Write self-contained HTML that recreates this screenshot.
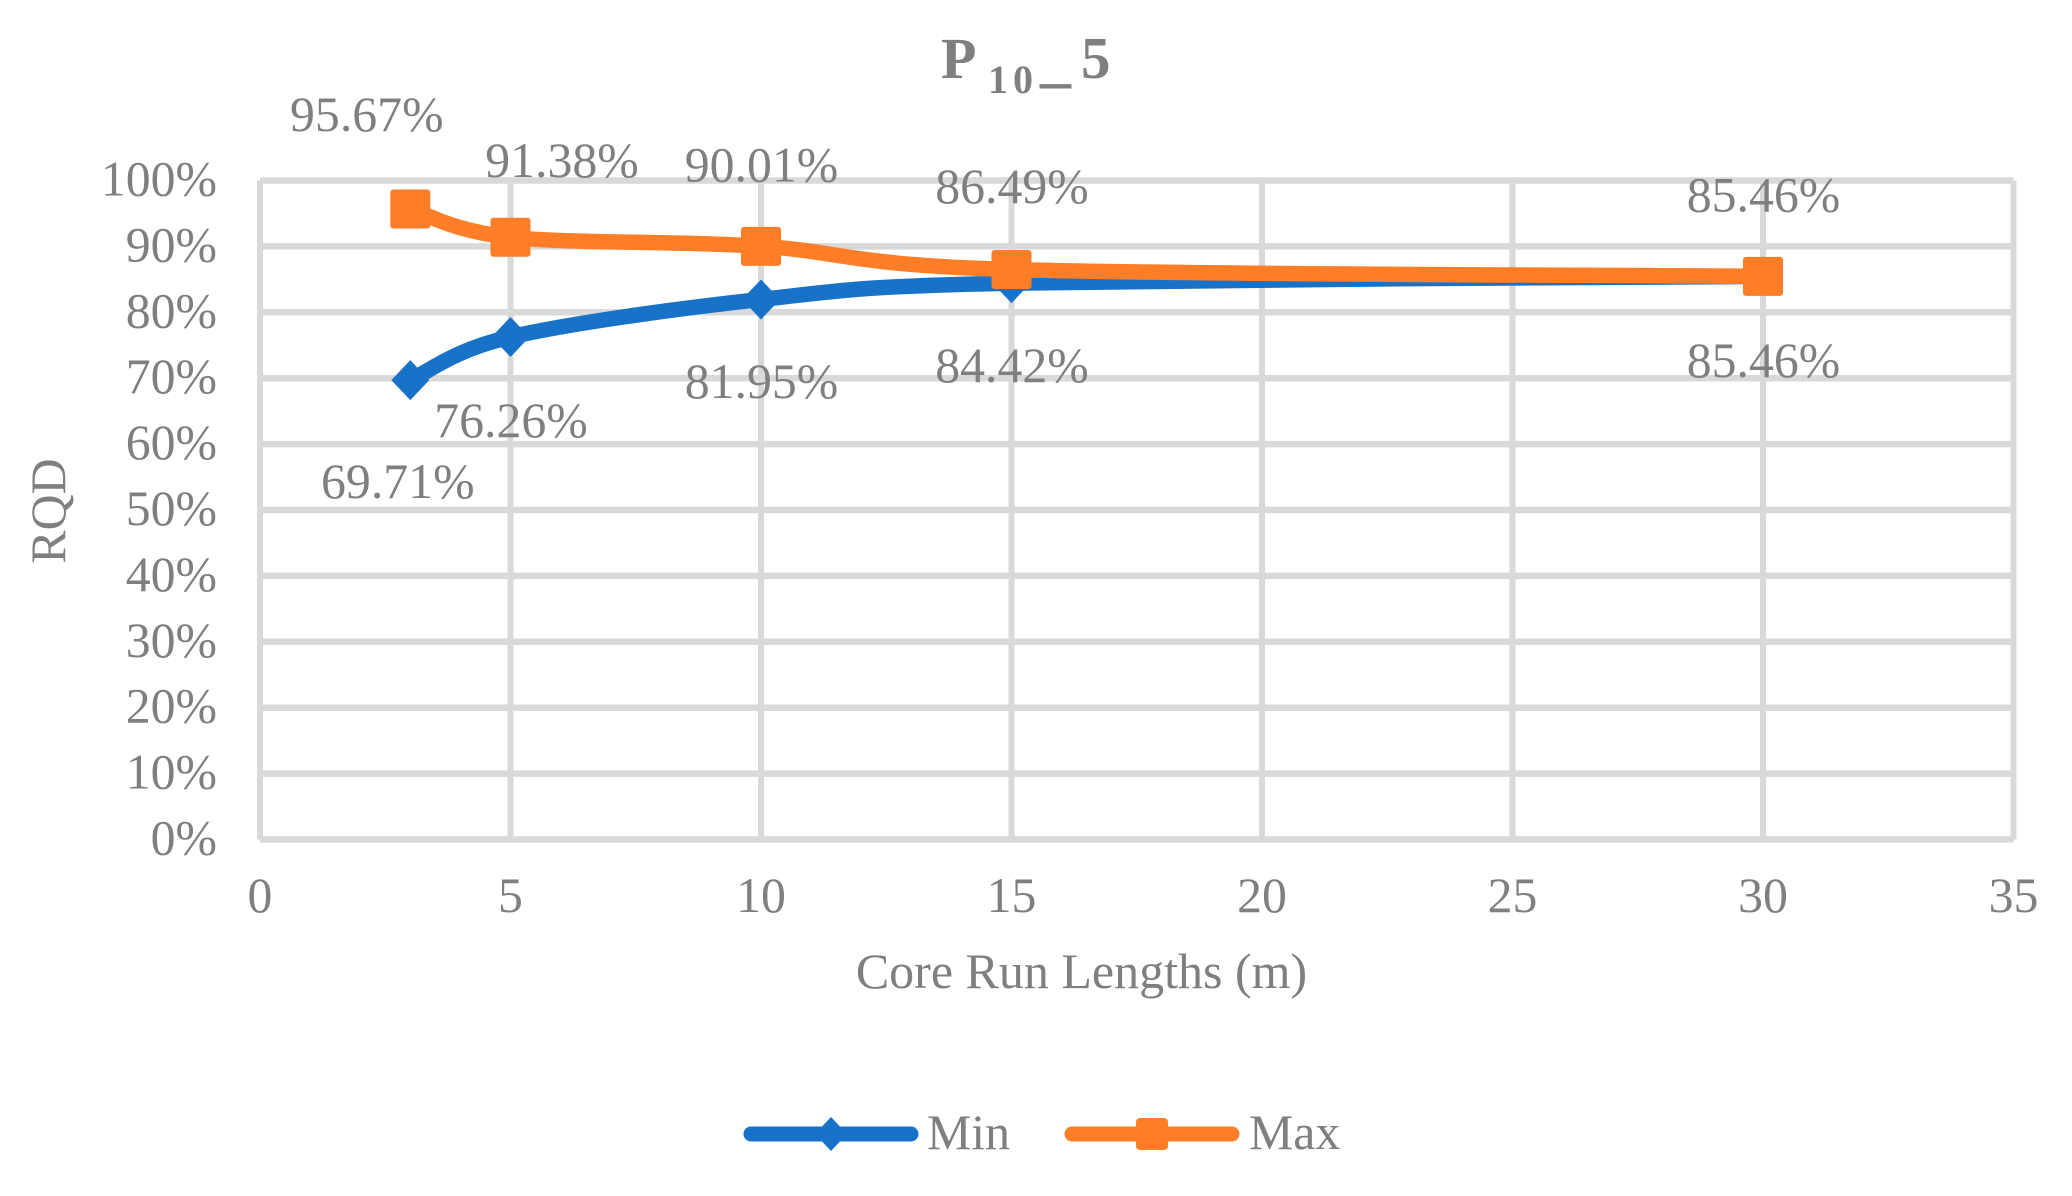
<!DOCTYPE html>
<html lang="en">
<head>
<meta charset="utf-8">
<title>P10_5 RQD vs Core Run Lengths</title>
<style>
  html, body { margin: 0; padding: 0; background: #ffffff; }
  svg { display: block; }
  text { font-family: "Liberation Serif", serif; fill: #7f7f7f; font-size: 49.8px; }
</style>
</head>
<body>
<svg id="chart" xmlns="http://www.w3.org/2000/svg" width="2072" height="1196" viewBox="0 0 2072 1196">
  <rect x="0" y="0" width="2072" height="1196" fill="#ffffff"/>
  <g id="grid"></g>
  <g id="yticks"></g>
  <g id="xticks"></g>
  <g id="series"></g>
  <g id="labels"></g>

  <text font-weight="bold" y="78" style="font-weight:bold"><tspan x="941" y="78" style="font-size:58px">P</tspan><tspan x="988" y="93" style="font-size:40px;letter-spacing:5px">10</tspan><tspan x="1040" y="80" style="font-size:62px">_</tspan><tspan x="1081" y="78" style="font-size:59px">5</tspan></text>
  <text transform="translate(65,511) rotate(-90)" text-anchor="middle">RQD</text>
  <text x="1081.5" y="988" text-anchor="middle" style="font-size:50px">Core Run Lengths (m)</text>

  <g>
    <g>
      <line x1="751" y1="1134" x2="911" y2="1134" stroke="#1772c8" stroke-width="15" stroke-linecap="round"/>
      <polygon points="831,1117 847,1134 831,1151 815,1134" fill="#1772c8"/>
      <text x="927" y="1149">Min</text>
    </g>
    <g>
      <line x1="1072" y1="1134" x2="1232" y2="1134" stroke="#fe7e27" stroke-width="15" stroke-linecap="round"/>
      <rect x="1136" y="1118" width="32" height="32" rx="4" fill="#fe7e27"/>
      <text x="1249" y="1149">Max</text>
    </g>
  </g>
</svg>

<script>
const xTicks = [0, 5, 10, 15, 20, 25, 30, 35];
const yTicks = [0, 10, 20, 30, 40, 50, 60, 70, 80, 90, 100];
const runLengths = [3, 5, 10, 15, 30];
const minValues = [69.71, 76.26, 81.95, 84.42, 85.46];
const maxValues = [95.67, 91.38, 90.01, 86.49, 85.46];

const NS = 'http://www.w3.org/2000/svg';
const plot = { left: 260, right: 2013.5, top: 180.5, bottom: 839.5 };
const xMin = xTicks[0];
const xMax = xTicks[xTicks.length - 1];
const yMin = yTicks[0];
const yMax = yTicks[yTicks.length - 1];

function xScale(v) {
  return plot.left + (v - xMin) / (xMax - xMin) * (plot.right - plot.left);
}
function yScale(v) {
  return plot.bottom - (v - yMin) / (yMax - yMin) * (plot.bottom - plot.top);
}
function make(tag, parent) {
  const el = document.createElementNS(NS, tag);
  parent.appendChild(el);
  return el;
}
function smoothPath(points) {
  let d = 'M' + points[0][0] + ' ' + points[0][1];
  for (let i = 0; i < points.length - 1; i++) {
    const p0 = points[Math.max(i - 1, 0)];
    const p1 = points[i];
    const p2 = points[i + 1];
    const p3 = points[Math.min(i + 2, points.length - 1)];
    const c1x = p1[0] + (p2[0] - p0[0]) / 6;
    const c1y = p1[1] + (p2[1] - p0[1]) / 6;
    const c2x = p2[0] - (p3[0] - p1[0]) / 6;
    const c2y = p2[1] - (p3[1] - p1[1]) / 6;
    d += ' C' + c1x + ' ' + c1y + ' ' + c2x + ' ' + c2y + ' ' + p2[0] + ' ' + p2[1];
  }
  return d;
}

const gridLayer = document.getElementById('grid');
const yTickLayer = document.getElementById('yticks');
const xTickLayer = document.getElementById('xticks');
const seriesLayer = document.getElementById('series');
const labelLayer = document.getElementById('labels');

yTicks.forEach(function (t) {
  const line = make('line', gridLayer);
  
  
  line.setAttribute('x1', plot.left);
  line.setAttribute('x2', plot.right);
  line.setAttribute('y1', yScale(t));
  line.setAttribute('y2', yScale(t));
  line.setAttribute('stroke', '#d9d9d9');
  line.setAttribute('stroke-width', '6.5');

  const label = make('text', yTickLayer);
  
  
  label.setAttribute('x', 217);
  label.setAttribute('y', yScale(t) + 15);
  label.setAttribute('text-anchor', 'end');
  label.textContent = t + '%';
});

xTicks.forEach(function (t) {
  const line = make('line', gridLayer);
  
  
  line.setAttribute('x1', xScale(t));
  line.setAttribute('x2', xScale(t));
  line.setAttribute('y1', plot.top);
  line.setAttribute('y2', plot.bottom);
  line.setAttribute('stroke', '#d9d9d9');
  line.setAttribute('stroke-width', '6');

  const label = make('text', xTickLayer);
  
  
  label.setAttribute('x', xScale(t));
  label.setAttribute('y', 912);
  label.setAttribute('text-anchor', 'middle');
  label.textContent = t;
});

function drawSeries(values, color, markerType, labelOffsets, seriesName) {
  const pts = values.map(function (v, i) {
    return [xScale(runLengths[i]), yScale(v)];
  });
  const path = make('path', seriesLayer);
  
  
  path.setAttribute('d', smoothPath(pts));
  path.setAttribute('fill', 'none');
  path.setAttribute('stroke', color);
  path.setAttribute('stroke-width', '15.5');
  path.setAttribute('stroke-linejoin', 'round');

  pts.forEach(function (p, i) {
    let marker;
    if (markerType === 'diamond') {
      marker = make('polygon', seriesLayer);
      marker.setAttribute('points', [
        p[0] + ',' + (p[1] - 20),
        (p[0] + 19) + ',' + p[1],
        p[0] + ',' + (p[1] + 20),
        (p[0] - 19) + ',' + p[1]
      ].join(' '));
    } else {
      marker = make('rect', seriesLayer);
      marker.setAttribute('x', p[0] - 20);
      marker.setAttribute('y', p[1] - 19.5);
      marker.setAttribute('width', 40);
      marker.setAttribute('height', 39);
      marker.setAttribute('rx', 3);
    }
    
    
    marker.setAttribute('fill', color);

    const label = make('text', labelLayer);
    
    
    label.setAttribute('x', p[0] + labelOffsets[i][0] + 0.5);
    label.setAttribute('y', p[1] + labelOffsets[i][1]);
    label.setAttribute('text-anchor', 'middle');
    label.textContent = values[i].toFixed(2) + '%';
  });
}

drawSeries(minValues, '#1772c8', 'diamond',
  [[-13, 118], [0, 100], [0, 98.5], [0, 99], [0, 100.5]], 'min-series');
drawSeries(maxValues, '#fe7e27', 'square',
  [[-44, -78], [51, -60.5], [0, -65], [0, -66.5], [0, -65]], 'max-series');
</script>
</body>
</html>
